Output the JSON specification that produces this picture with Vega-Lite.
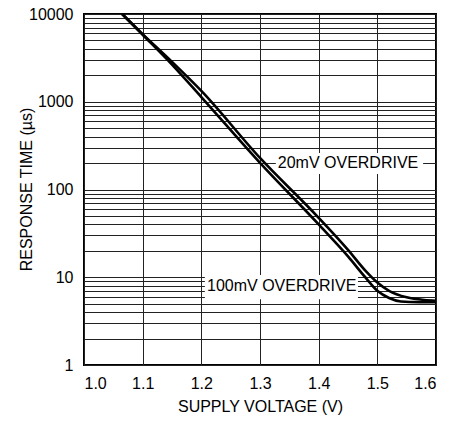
{
  "$schema": "https://vega.github.io/schema/vega-lite/v6.json",
  "autosize": "none",
  "width": 352,
  "height": 351,
  "padding": {"left": 84, "top": 14, "right": 25, "bottom": 56},
  "background": "white",
  "config": {
    "font": "Liberation Sans",
    "view": {"stroke": "#000", "strokeWidth": 2},
    "axis": {
      "labelFont": "Liberation Sans",
      "titleFont": "Liberation Sans",
      "labelFontSize": 16,
      "titleFontSize": 16,
      "labelColor": "#000",
      "titleColor": "#000",
      "titleFontWeight": "normal",
      "domain": false,
      "ticks": false,
      "gridColor": "#222",
      "gridOpacity": 1,
      "gridWidth": 1,
      "labelOverlap": false,
      "labelBound": false
    }
  },
  "datasets": {
    "curves": [
      {"v": 1.065, "t": 10000, "s": "20mV"},
      {"v": 1.1, "t": 5900, "s": "20mV"},
      {"v": 1.15, "t": 2850, "s": "20mV"},
      {"v": 1.2, "t": 1330, "s": "20mV"},
      {"v": 1.3, "t": 229, "s": "20mV"},
      {"v": 1.4, "t": 47.6, "s": "20mV"},
      {"v": 1.45, "t": 20.5, "s": "20mV"},
      {"v": 1.48, "t": 11.8, "s": "20mV"},
      {"v": 1.5, "t": 8.7, "s": "20mV"},
      {"v": 1.52, "t": 7.0, "s": "20mV"},
      {"v": 1.55, "t": 5.9, "s": "20mV"},
      {"v": 1.58, "t": 5.5, "s": "20mV"},
      {"v": 1.6, "t": 5.4, "s": "20mV"},
      {"v": 1.065, "t": 10000, "s": "100mV"},
      {"v": 1.1, "t": 5800, "s": "100mV"},
      {"v": 1.15, "t": 2650, "s": "100mV"},
      {"v": 1.2, "t": 1130, "s": "100mV"},
      {"v": 1.3, "t": 201, "s": "100mV"},
      {"v": 1.4, "t": 40, "s": "100mV"},
      {"v": 1.45, "t": 17.3, "s": "100mV"},
      {"v": 1.48, "t": 9.9, "s": "100mV"},
      {"v": 1.5, "t": 7.0, "s": "100mV"},
      {"v": 1.52, "t": 5.8, "s": "100mV"},
      {"v": 1.54, "t": 5.3, "s": "100mV"},
      {"v": 1.57, "t": 5.2, "s": "100mV"},
      {"v": 1.6, "t": 5.2, "s": "100mV"}
    ],
    "labels": [
      {"text": "20mV OVERDRIVE", "v": 1.45, "t": 200, "x1": 1.327, "x2": 1.578, "y1": 150, "y2": 260},
      {"text": "100mV OVERDRIVE", "v": 1.337, "t": 8, "x1": 1.206, "x2": 1.467, "y1": 5.6, "y2": 10.6}
    ]
  },
  "layer": [
    {
      "data": {"name": "labels"},
      "mark": {"type": "rect", "color": "white"},
      "encoding": {
        "x": {"field": "x1", "type": "quantitative", "scale": {"domain": [1.0, 1.6], "nice": false}},
        "x2": {"field": "x2"},
        "y": {"field": "y1", "type": "quantitative", "scale": {"type": "log", "domain": [1, 10000], "nice": false}},
        "y2": {"field": "y2"}
      }
    },
    {
      "data": {"name": "curves"},
      "mark": {"type": "line", "color": "#000", "strokeWidth": 2.6, "interpolate": "monotone"},
      "encoding": {
        "x": {
          "field": "v", "type": "quantitative",
          "scale": {"domain": [1.0, 1.6], "nice": false},
          "axis": {
            "title": "SUPPLY VOLTAGE (V)",
            "values": [1.0, 1.1, 1.2, 1.3, 1.4, 1.5, 1.6],
            "format": ".1f",
            "labelPadding": 10,
            "titlePadding": 7
          }
        },
        "y": {
          "field": "t", "type": "quantitative",
          "scale": {"type": "log", "domain": [1, 10000], "nice": false},
          "axis": {
            "title": "RESPONSE TIME (µs)",
            "values": [1,2,3,4,5,6,7,8,9,10,20,30,40,50,60,70,80,90,100,200,300,400,500,600,700,800,900,1000,2000,3000,4000,5000,6000,7000,8000,9000,10000],
            "format": "d",
            "labelExpr": "indexof([1,10,100,1000,10000], datum.value) >= 0 ? datum.label : ''",
            "labelPadding": 11,
            "titleX": -50,
            "titleY": 175
          }
        },
        "detail": {"field": "s"}
      }
    },
    {
      "data": {"name": "labels"},
      "mark": {"type": "text", "fontSize": 16, "color": "#000", "font": "Liberation Sans"},
      "encoding": {
        "x": {"field": "v", "type": "quantitative"},
        "y": {"field": "t", "type": "quantitative"},
        "text": {"field": "text"}
      }
    }
  ]
}
